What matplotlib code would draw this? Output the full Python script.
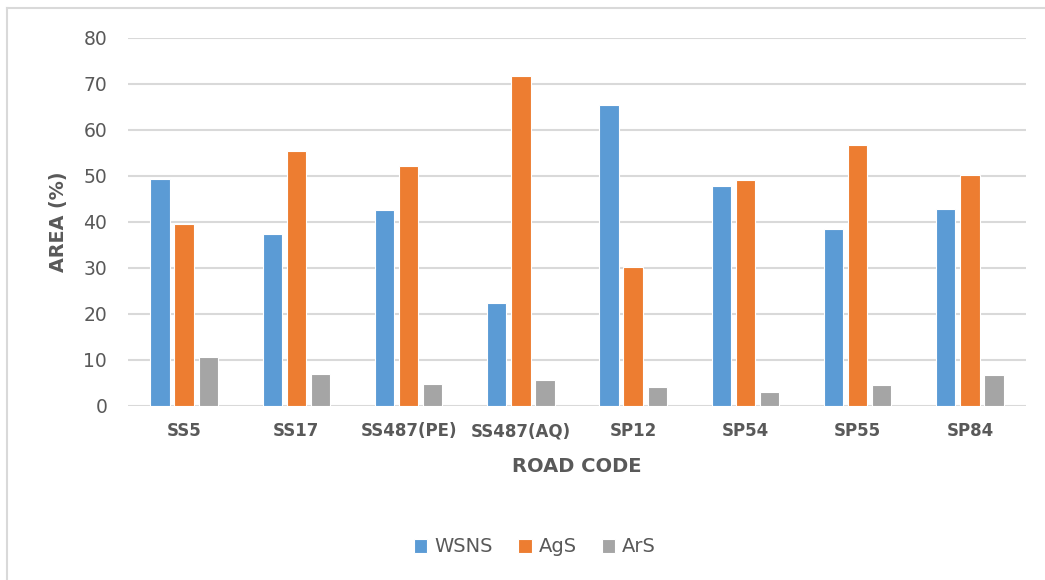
import numpy as np
import matplotlib
matplotlib.use("Agg")
import matplotlib.pyplot as plt
from matplotlib.lines import Line2D

plt.rcParams['font.family'] = ['DejaVu Sans']

roads = ["SS5", "SS17", "SS487(PE)", "SS487(AQ)", "SP12", "SP54", "SP55", "SP84"]
wsns = [49.3, 37.3, 42.6, 22.3, 65.3, 47.7, 38.4, 42.8]
ags = [39.5, 55.4, 52.1, 71.7, 30.1, 49.1, 56.6, 50.2]
ars = [10.5, 6.9, 4.7, 5.5, 4.1, 3.0, 4.4, 6.6]

series = [("WSNS", wsns, "#5B9BD5"), ("AgS", ags, "#ED7D31"), ("ArS", ars, "#A5A5A5")]
text_col = "#595959"

fig = plt.figure(figsize=(10.45, 5.8), dpi=100)
ax = fig.add_axes([128 / 1045, 174.3 / 580, 898 / 1045, 368 / 580])

# outer chart frame: only top and left edges fall inside the image
fx, fy = 7 / 1045, 1 - 8 / 580
fig.add_artist(Line2D([fx, 1], [fy, fy], transform=fig.transFigure,
                      color="#D9D9D9", linewidth=1.5))
fig.add_artist(Line2D([fx, fx], [0, fy], transform=fig.transFigure,
                      color="#D9D9D9", linewidth=1.5))

x = np.arange(len(roads))
width = 0.172
step = 0.215
for i, (name, vals, col) in enumerate(series):
    ax.bar(x + (i - 1) * step, vals, width, color=col, edgecolor="white",
           linewidth=0.8, label=name, zorder=3)

ax.set_xlim(-0.5, len(roads) - 0.5)
ax.set_ylim(0, 80)
ax.set_yticks(range(0, 81, 10))
ax.grid(axis="y", color="#D9D9D9", linewidth=1.5, zorder=0)
for s in ax.spines.values():
    s.set_visible(False)
ax.tick_params(length=0)
ax.tick_params(axis="y", labelsize=13.5, labelcolor=text_col, pad=15)
ax.tick_params(axis="x", labelsize=12, labelcolor=text_col, pad=12)
ax.set_xticks(x)
ax.set_xticklabels(roads, fontweight="bold")

ax.set_xlabel("ROAD CODE", fontsize=14, fontweight="bold", color=text_col, labelpad=12)
ax.set_ylabel("AREA (%)", fontsize=13.8, fontweight="bold", color=text_col, labelpad=11)

leg = fig.legend(loc="center", bbox_to_anchor=(535 / 1045, 1 - 547 / 580), ncol=3,
                 frameon=False, fontsize=14, handlelength=0.7, handleheight=0.7,
                 handletextpad=0.35, columnspacing=1.3, labelcolor=text_col)

fig.savefig("out.png", dpi=100)
